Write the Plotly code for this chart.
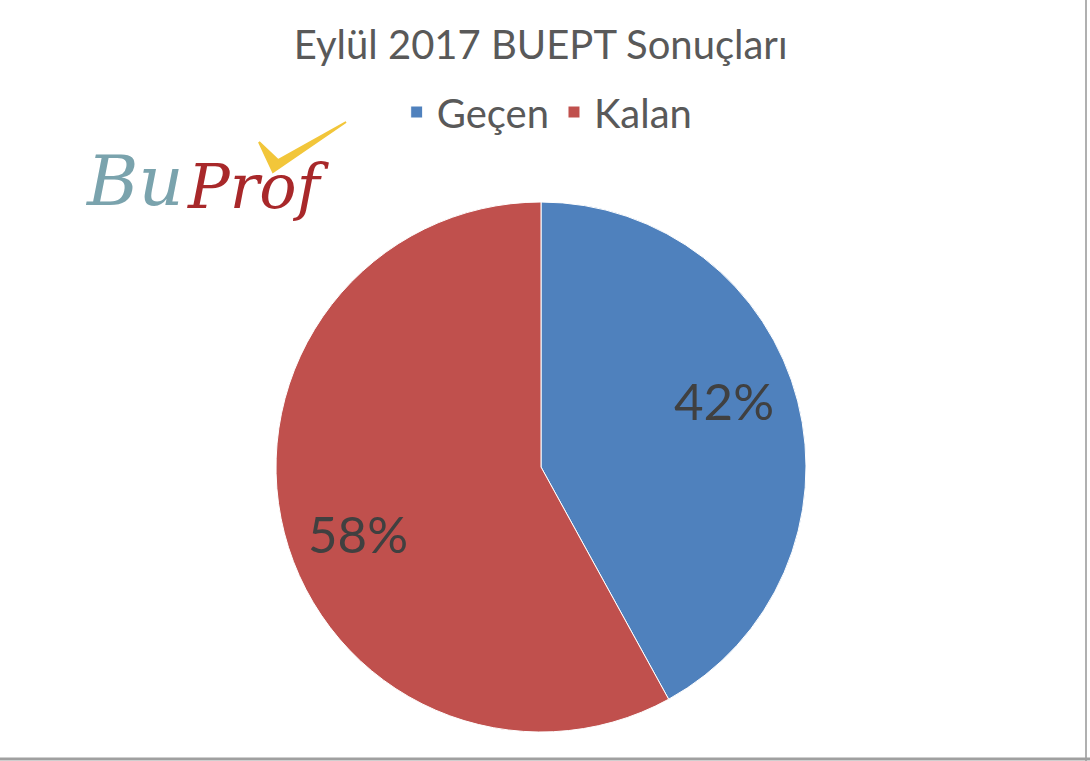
import math
import plotly.graph_objects as go

labels = ["Geçen", "Kalan"]
values = [42, 58]
colors = ["#4f81bd", "#c0504d"]
title_text = "Eylül 2017 BUEPT Sonuçları"

W, H = 1090, 761
cx, cy, r = 541, 467, 265

fig = go.Figure(go.Pie(
    labels=labels, values=values, sort=False, direction="clockwise", rotation=0,
    marker=dict(colors=colors, line=dict(color="white", width=1)),
    textinfo="none",
    domain=dict(x=[(cx - r) / W, (cx + r) / W], y=[(H - cy - r) / H, (H - cy + r) / H]),
    hoverinfo="label+percent",
))

# percentage labels placed near slice mid-angles (derived from the data)
total = sum(values)
start = 0.0
for v in values:
    frac = v / total
    mid = (start + frac / 2) * 2 * math.pi - math.radians(5.7)  # clockwise from top
    start += frac
    lx = cx + 0.735 * r * math.sin(mid)
    ly = cy - 0.735 * r * math.cos(mid)
    fig.add_annotation(x=lx / W, y=1 - ly / H, xref="paper", yref="paper",
                       xanchor="center", yanchor="middle",
                       text=f"{round(frac * 100)}%", showarrow=False,
                       font=dict(family="Lato, Open Sans, sans-serif", size=51, color="#404040"))

fig.update_layout(
    width=W, height=H, margin=dict(l=0, r=0, t=0, b=0),
    paper_bgcolor="white", plot_bgcolor="white",
    title=dict(text=title_text, x=0.496, xanchor="center", y=1 - 45 / H, yanchor="middle",
               font=dict(family="Lato, Open Sans, sans-serif", size=40, color="#595959")),
    showlegend=True,
    legend=dict(orientation="h", x=0.502, xanchor="center", y=1 - 112 / H, yanchor="middle",
                font=dict(family="Lato, Open Sans, sans-serif", size=40, color="#595959"),
                traceorder="normal"),
    font=dict(family="Lato, Open Sans, sans-serif"),
)

# BuProf logo as text + check mark
fig.add_annotation(x=134 / W, y=1 - 181 / H, xref="paper", yref="paper", text="<i>Bu</i>",
                   xanchor="center", yanchor="middle",
                   showarrow=False, font=dict(family="DejaVu Serif", size=70, color="#7aa3ad"))
fig.add_annotation(x=258 / W, y=1 - 186 / H, xref="paper", yref="paper", text="<i>Prof</i>",
                   xanchor="center", yanchor="middle",
                   showarrow=False, font=dict(family="DejaVu Serif", size=62, color="#a8282a"))
fig.add_shape(type="path", xref="paper", yref="paper",
              path=f"M {259/W} {1-142/H} L {273/W} {1-172/H} L {346/W} {1-122/H} L {278/W} {1-160/H} Z",
              fillcolor="#f2c63a", line=dict(color="#f2c63a", width=2))

# frame lines
fig.add_shape(type="line", xref="paper", yref="paper", x0=1086 / W, x1=1086 / W, y0=0, y1=1,
              line=dict(color="#b0b0b0", width=2))
fig.add_shape(type="line", xref="paper", yref="paper", x0=0, x1=1, y0=2 / H, y1=2 / H,
              line=dict(color="#a0a0a0", width=3))

fig.write_html("out.html", config={"displayModeBar": False},
               post_script="document.body.style.margin='0';")
